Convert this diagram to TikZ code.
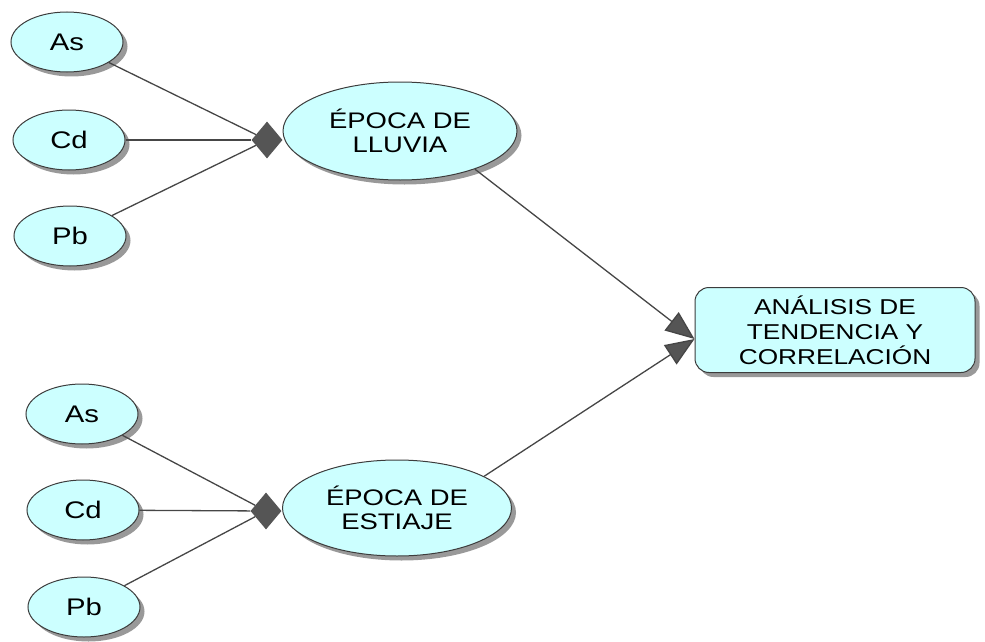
\documentclass[tikz,border=0pt]{standalone}
\usepackage{fontspec}
\setmainfont{Liberation Sans}[FakeStretch=1.22]
\usetikzlibrary{shapes.geometric,arrows.meta,shadows}
\definecolor{cyanfill}{RGB}{204,255,255}
\definecolor{edgegray}{RGB}{60,60,60}
\definecolor{linegray}{RGB}{70,70,70}
\definecolor{tipgray}{RGB}{85,85,85}
\begin{document}
\begin{tikzpicture}[x=1pt,y=-1pt,
  shade/.style={drop shadow={shadow xshift=4.5pt,shadow yshift=-4.5pt,fill=black,opacity=0.4}},
  elem/.style={ellipse,draw=edgegray,line width=1pt,fill=cyanfill,shade,inner sep=0pt,
    minimum width=112pt,minimum height=60pt,font=\fontsize{24}{28}\selectfont},
  season/.style={ellipse,draw=edgegray,line width=1pt,fill=cyanfill,shade,inner sep=0pt,
    align=center,font=\fontsize{22.5}{24.5}\selectfont},
  resbox/.style={rectangle,rounded corners=14pt,draw=edgegray,line width=1pt,fill=cyanfill,shade,
    inner sep=0pt,minimum width=280pt,minimum height=85pt,align=center,font=\fontsize{21.5}{25}\selectfont},
  joint/.style={diamond,fill=tipgray,inner sep=0pt,minimum width=31pt,minimum height=37pt},
  conn/.style={draw=linegray,line width=1.3pt},
  arr/.style={conn,-{Triangle[length=29pt,width=23pt,fill=tipgray]}}]
\useasboundingbox (0,0) rectangle (985,642);
% top group
\node[elem] (as1) at (67,42) {As};
\node[elem] (cd1) at (69,140) {Cd};
\node[elem] (pb1) at (70,236) {Pb};
\node[season,minimum width=234pt,minimum height=98pt] (ll) at (400,131) {ÉPOCA DE\\LLUVIA};
\node[joint] (d1) at (267,140) {};
% bottom group
\node[elem] (as2) at (82,414) {As};
\node[elem] (cd2) at (83,510) {Cd};
\node[elem] (pb2) at (84,607) {Pb};
\node[season,minimum width=229pt,minimum height=96pt] (es) at (397,508) {ÉPOCA DE\\ESTIAJE};
\node[joint] (d2) at (266,511) {};
% result
\node[resbox] (res) at (835,330) {ANÁLISIS DE\\TENDENCIA Y\\CORRELACIÓN};
\coordinate (tip) at ([yshift=-9pt]res.west);
% connectors
\draw[conn] (as1) -- (d1);
\draw[conn] (cd1) -- (d1);
\draw[conn] (pb1) -- (d1);
\draw[conn] (as2) -- (d2);
\draw[conn] (cd2) -- (d2);
\draw[conn] (pb2) -- (d2);
\draw[arr] (ll.-27) -- (tip);
\draw[arr] (es.20) -- (tip);
\end{tikzpicture}
\end{document}
